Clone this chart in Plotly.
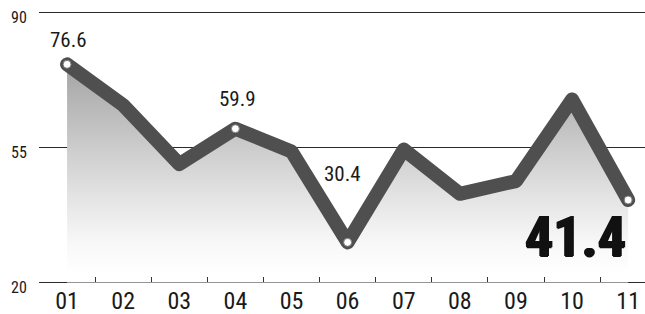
import plotly.graph_objects as go

categories = ["01", "02", "03", "04", "05", "06", "07", "08", "09", "10", "11"]
values = [76.6, 66.0, 50.7, 59.9, 54.0, 30.4, 54.5, 43.0, 46.3, 67.5, 41.4]
highlight_idx = [0, 3, 5, 10]
y_ticks = [20, 55, 90]

NARROW = "Liberation Sans Narrow, Arial Narrow, Roboto Condensed, sans-serif"

W, H = 645, 314
M_T, M_B = 5, 20
AXIS_Y_PX = 282  # pixel row of the x-axis baseline
plot_h = H - M_T - M_B
axis_pos = (H - M_B - AXIS_Y_PX) / plot_h

fig = go.Figure()

# baseline at the bottom tick value so the fill stops at the axis
fig.add_trace(go.Scatter(
    x=categories, y=[y_ticks[0]] * len(categories), mode="lines",
    line=dict(width=0, color="rgba(0,0,0,0)"),
    hoverinfo="skip", showlegend=False,
))

fig.add_trace(go.Scatter(
    x=categories, y=values, mode="lines",
    line=dict(color="#4f4f4f", width=14, shape="linear"),
    fill="tonexty",
    fillgradient=dict(type="vertical",
                      colorscale=[[0, "rgba(255,255,255,1)"], [0.15, "rgba(248,248,248,1)"],
                                  [0.4, "rgba(225,225,225,1)"], [1, "rgba(165,165,165,1)"]],
                      start=22, stop=76),
    hoverinfo="skip", showlegend=False,
))

fig.add_trace(go.Scatter(
    x=[categories[i] for i in highlight_idx],
    y=[values[i] for i in highlight_idx],
    mode="markers",
    marker=dict(color="white", size=8, line=dict(color="#777777", width=1)),
    hoverinfo="skip", showlegend=False,
))

# y tick labels (slightly below their gridlines, as in the reference)
for v in y_ticks:
    fig.add_annotation(x=0, xref="paper", y=v, yref="y", text=str(v),
                       showarrow=False, xanchor="right", xshift=-10, yshift=-5,
                       font=dict(family=NARROW, size=16, color="#1a1a1a"))

# value labels
label_offsets = {0: (1, 24), 3: (2, 30), 5: (-5, 68)}
for i, (dx, dy) in label_offsets.items():
    fig.add_annotation(x=i, y=values[i], text=f"{values[i]:.1f}",
                       showarrow=False, xshift=dx, yshift=dy,
                       font=dict(family=NARROW, size=21, color="#1a1a1a"))

last = len(values) - 1
fig.add_annotation(x=last, y=values[last], text=f"<b>{values[last]:.1f}</b>",
                   showarrow=False, xanchor="right", xshift=0, yshift=-37,
                   font=dict(family=NARROW, size=56, color="#111111",
                             shadow="1px 0 0 #111, -1px 0 0 #111, 0 1px 0 #111"))

fig.update_layout(
    width=W, height=H,
    margin=dict(l=39, r=0, t=M_T, b=M_B),
    paper_bgcolor="white", plot_bgcolor="white",
    xaxis=dict(type="category", range=[-0.5, 10.3], automargin=False,
               anchor="free", position=axis_pos,
               showgrid=False, showline=False, zeroline=False,
               ticks="inside", tickson="boundaries", ticklen=5, tickcolor="#333",
               tickfont=dict(family=NARROW, size=24, color="#1a1a1a"),
               ticklabelstandoff=2),
    yaxis=dict(range=[17, 92], tickvals=y_ticks, showgrid=True, automargin=False,
               gridcolor="#2a2a2a", gridwidth=1.3, zeroline=False, showline=False,
               showticklabels=False),
)

fig.write_html(
    "out.html", config={"displayModeBar": False},
    post_script=("document.body.style.margin='0';"
                 "document.querySelectorAll('.js-line').forEach(function(p){"
                 "p.style.strokeLinejoin='round';p.style.strokeLinecap='round';});"))
